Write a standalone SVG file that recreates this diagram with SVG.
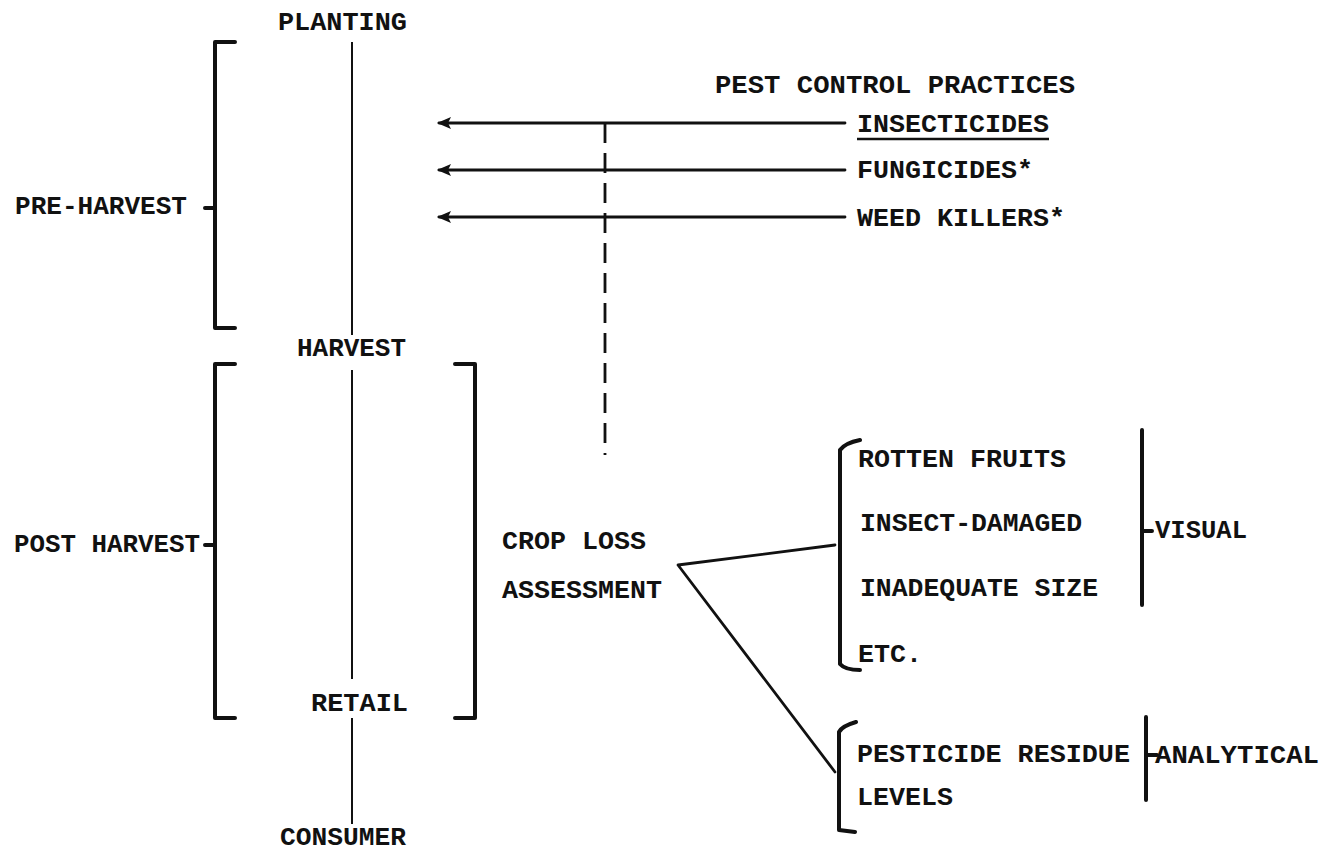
<svg xmlns="http://www.w3.org/2000/svg" width="1325" height="854" viewBox="0 0 1325 854">
<style>
text{font-family:"Liberation Mono","DejaVu Sans Mono",monospace;font-weight:bold;font-size:26.7px;fill:#111}
.ln{stroke:#111;stroke-width:2.8;fill:none;stroke-linecap:round;stroke-linejoin:round}
.br{stroke:#111;stroke-width:4;fill:none;stroke-linecap:round;stroke-linejoin:round}
.th{stroke:#111;stroke-width:2;fill:none}
.ds{stroke:#111;stroke-width:2.8;fill:none;stroke-dasharray:20,10}
</style>
<defs>
<marker id="ah" viewBox="0 0 14 12" refX="12" refY="6" markerWidth="14" markerHeight="12" markerUnits="userSpaceOnUse" orient="auto">
<path d="M0,0 L14,6 L0,12 L3,6 Z" fill="#111"/>
</marker>
</defs>
<rect width="1325" height="854" fill="#fff"/>
<g id="connectors">
<line class="th" x1="352" y1="42" x2="352" y2="335"/>
<line class="th" x1="352" y1="370" x2="352" y2="679"/>
<line class="th" x1="352" y1="718" x2="352" y2="824"/>
<line class="ln" x1="845" y1="123" x2="439" y2="123" marker-end="url(#ah)"/>
<line class="ln" x1="845" y1="170" x2="439" y2="170" marker-end="url(#ah)"/>
<line class="ln" x1="845" y1="217" x2="439" y2="217" marker-end="url(#ah)"/>
<line class="ds" x1="605" y1="123" x2="605" y2="455"/>
<polyline class="ln" points="835,545 678,565 835,772"/>
</g>
<g id="pre-harvest-bracket">
<path class="br" d="M235,42 L215,42 L215,328 L235,328 M215,208 L205,208"/>
</g>
<g id="post-harvest-bracket">
<path class="br" d="M235,364 L215,364 L215,718 L235,718 M215,545 L205,545"/>
</g>
<g id="stage-bracket-right">
<path class="br" d="M455,364 L475,364 L475,718 L455,718"/>
</g>
<g id="visual-bracket">
<path class="br" d="M860,440 Q845,443 840,450 L840,664 Q845,670 860,670"/>
<path class="br" d="M1142,430 L1142,605 M1142,531 L1152,531"/>
</g>
<g id="analytical-bracket">
<path class="br" d="M856,722 Q842,726 839,732 L839,830 L855,832"/>
<path class="br" d="M1146,717 L1146,800 M1146,755 L1157,755"/>
</g>
<g id="planting"><text x="278" y="30" textLength="129" lengthAdjust="spacingAndGlyphs">PLANTING</text></g>
<g id="harvest"><text x="297" y="356" textLength="109" lengthAdjust="spacingAndGlyphs">HARVEST</text></g>
<g id="retail"><text x="311" y="711" textLength="97" lengthAdjust="spacingAndGlyphs">RETAIL</text></g>
<g id="consumer"><text x="280" y="845" font-size="25" textLength="126" lengthAdjust="spacingAndGlyphs">CONSUMER</text></g>
<g id="pre-harvest"><text x="15" y="214" textLength="172" lengthAdjust="spacingAndGlyphs">PRE-HARVEST</text></g>
<g id="post-harvest"><text x="14" y="552" textLength="186" lengthAdjust="spacingAndGlyphs">POST HARVEST</text></g>
<g id="pest-control"><text x="715" y="93" textLength="360" lengthAdjust="spacingAndGlyphs">PEST CONTROL PRACTICES</text></g>
<g id="insecticides"><text x="857" y="132" textLength="192" lengthAdjust="spacingAndGlyphs">INSECTICIDES</text>
<line x1="857" y1="139" x2="1049" y2="139" stroke="#111" stroke-width="2.5"/></g>
<g id="fungicides"><text x="857" y="178" textLength="176" lengthAdjust="spacingAndGlyphs">FUNGICIDES*</text></g>
<g id="weed-killers"><text x="857" y="226" textLength="208" lengthAdjust="spacingAndGlyphs">WEED KILLERS*</text></g>
<g id="crop-loss"><text x="502" y="549" textLength="144" lengthAdjust="spacingAndGlyphs">CROP LOSS</text>
<text x="502" y="598" textLength="160" lengthAdjust="spacingAndGlyphs">ASSESSMENT</text></g>
<g id="rotten"><text x="858" y="467" textLength="208" lengthAdjust="spacingAndGlyphs">ROTTEN FRUITS</text></g>
<g id="insect-damaged"><text x="860" y="531" textLength="222" lengthAdjust="spacingAndGlyphs">INSECT-DAMAGED</text></g>
<g id="inadequate"><text x="860" y="596" textLength="238" lengthAdjust="spacingAndGlyphs">INADEQUATE SIZE</text></g>
<g id="etc"><text x="858" y="662" textLength="64" lengthAdjust="spacingAndGlyphs">ETC.</text></g>
<g id="visual"><text x="1155" y="538" textLength="92" lengthAdjust="spacingAndGlyphs">VISUAL</text></g>
<g id="pesticide-residue"><text x="857" y="762" textLength="273" lengthAdjust="spacingAndGlyphs">PESTICIDE RESIDUE</text>
<text x="857" y="805" textLength="96" lengthAdjust="spacingAndGlyphs">LEVELS</text></g>
<g id="analytical"><text x="1155" y="763" textLength="164" lengthAdjust="spacingAndGlyphs">ANALYTICAL</text></g>
</svg>
